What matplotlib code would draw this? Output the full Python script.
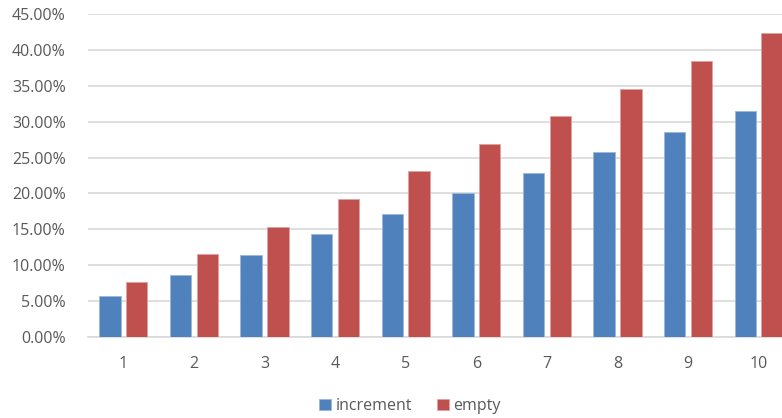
import matplotlib
matplotlib.use("Agg")
import matplotlib.pyplot as plt
import numpy as np
from matplotlib.ticker import FuncFormatter, MultipleLocator

categories = ["1", "2", "3", "4", "5", "6", "7", "8", "9", "10"]
increment = [5.71, 8.57, 11.43, 14.29, 17.14, 20.00, 22.86, 25.71, 28.57, 31.43]
empty = [7.69, 11.54, 15.38, 19.23, 23.08, 26.92, 30.77, 34.62, 38.46, 42.31]

plt.rcParams['font.family'] = ['Open Sans', 'DejaVu Sans']

fig = plt.figure(figsize=(7.82, 4.18), dpi=100)
ax = fig.add_axes([88/782, 1 - 337/418, 706/782, (337 - 14)/418])

x = np.arange(len(categories))
w = 0.305
off = 0.19
ax.bar(x - off, np.array(increment) / 100, width=w, color="#4F81BD", label="increment",
       edgecolor="#9DB7DA", linewidth=0.6, zorder=3)
ax.bar(x + off, np.array(empty) / 100, width=w, color="#C0504D", label="empty",
       edgecolor="#DEA2A0", linewidth=0.6, zorder=3)

ax.set_xlim(-0.5, len(categories) - 0.5)
ax.set_ylim(0, 0.45)
ax.yaxis.set_major_locator(MultipleLocator(0.05))
ax.yaxis.set_major_formatter(FuncFormatter(lambda v, p: f"{v*100:.2f}%"))
ax.set_xticks(x)
ax.set_xticklabels(categories)
ax.grid(axis="y", color="#D9D9D9", linewidth=1.2, zorder=0)
for s in ["top", "right", "left"]:
    ax.spines[s].set_visible(False)
ax.spines["bottom"].set_color("#D9D9D9")
ax.spines["bottom"].set_linewidth(1.2)
ax.tick_params(axis="both", length=0, colors="#595959", labelsize=11.5)
ax.tick_params(axis="y", pad=16)
ax.tick_params(axis="x", pad=14)

fig.legend(loc="center", bbox_to_anchor=(410/782, 1 - 406/418), ncol=2, frameon=False,
           fontsize=11.5, labelcolor="#595959", handlelength=0.75, handleheight=0.75,
           handletextpad=0.3, columnspacing=1.5)

fig.savefig("out.png", dpi=100)
